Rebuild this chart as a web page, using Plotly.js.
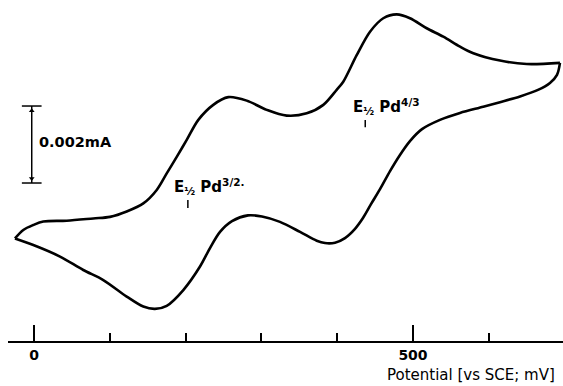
<!DOCTYPE html>
<html>
<head>
<meta charset="utf-8">
<script src="https://cdn.plot.ly/plotly-3.0.1.min.js"></script>
<style>html,body{margin:0;padding:0;background:#fff;}#chart{width:563px;height:386px;}</style>
</head>
<body>
<div id="chart"></div>
<script>
// Potential (mV vs SCE) and current (µA), forward (upper) sweep
const forwardPotential = [-25.1,-14.1,-0.9,12.3,43.1,78.2,100.3,122.3,144.2,161.9,175.1,188.3,201.5,216.8,236.5,256.3,280.6,307.0,333.4,359.8,381.7,399.3,408.0,425.7,443.3,460.8,478.5,496.0,518.1,540.0,562.0,579.6,614.8,650.0,693.9];
const forwardCurrent   = [0.30,0.52,0.65,0.74,0.76,0.82,0.86,1.00,1.21,1.56,1.99,2.42,2.86,3.38,3.77,3.97,3.88,3.64,3.49,3.55,3.77,4.16,4.37,5.06,5.67,6.02,6.12,6.02,5.76,5.54,5.28,5.11,4.92,4.83,4.86];
// reverse (lower) sweep
const reversePotential = [693.9,690.0,680.7,664.9,641.2,614.8,592.7,562.0,535.6,511.9,496.0,482.8,469.7,456.5,444.6,434.0,423.5,410.3,397.1,383.9,373.0,351.0,324.5,300.8,282.3,261.2,245.4,232.2,219.0,197.0,175.1,159.6,144.2,122.3,91.4,65.0,34.3,-0.9,-25.1];
const reverseCurrent   = [4.86,4.55,4.34,4.16,3.99,3.84,3.72,3.56,3.38,3.14,2.83,2.47,2.05,1.58,1.19,0.83,0.55,0.31,0.19,0.18,0.24,0.47,0.73,0.87,0.90,0.75,0.47,0.05,-0.43,-1.04,-1.45,-1.53,-1.47,-1.21,-0.78,-0.52,-0.17,0.13,0.30];
const majorTicks = [0, 500];
const tickLabels = ["0", "500"];
const scaleBarCurrent = 2;           // 0.002 mA = 2 µA
const scaleBarLabel = "0.002mA";
const halfWavePotentials = [203, 437];
const halfWaveLabels = ["E<sub>½</sub> Pd<sup>3/2.</sup>", "E<sub>½</sub> Pd<sup>4/3</sup>"];
const xTitle = "Potential [vs SCE; mV]";

const FONT = "DejaVu Sans, Arial, sans-serif";

// scale bar placement (layout, not data)
const sbX = -3, sbTop = 3.74, sbCap = 13;
const sbBot = sbTop - scaleBarCurrent;

const curveLine = {color: '#000', width: 2.6, shape: 'spline', smoothing: 0.9};
const traces = [
  {x: forwardPotential, y: forwardCurrent, mode: 'lines', line: curveLine, hoverinfo: 'skip', cliponaxis: false},
  {x: reversePotential, y: reverseCurrent, mode: 'lines', line: curveLine, hoverinfo: 'skip', cliponaxis: false},
  {x: [sbX, sbX], y: [sbTop, sbBot], mode: 'lines', line: {color: '#000', width: 1.5}, hoverinfo: 'skip'},
  {x: [sbX - sbCap, sbX + sbCap], y: [sbTop, sbTop], mode: 'lines', line: {color: '#000', width: 1.5}, hoverinfo: 'skip'},
  {x: [sbX - sbCap, sbX + sbCap], y: [sbBot, sbBot], mode: 'lines', line: {color: '#000', width: 1.5}, hoverinfo: 'skip'},
  {x: [sbX, sbX], y: [sbTop - 0.12, sbBot + 0.12], mode: 'markers', marker: {symbol: ['triangle-up', 'triangle-down'], size: 5, color: '#000'}, hoverinfo: 'skip'}
];

const shapes = halfWavePotentials.map((p, i) => ({
  type: 'line', xref: 'x', yref: 'y', x0: p, x1: p,
  y0: [1.30, 3.38][i], y1: [1.09, 3.19][i], line: {color: '#000', width: 1.5}
}));

const annotations = [
  {xref: 'x', yref: 'y', x: 4, y: 2.81, text: scaleBarLabel, showarrow: false, xanchor: 'left', yanchor: 'middle', font: {family: FONT, size: 14.5, weight: 'bold', color: '#000'}},
  {xref: 'x', yref: 'y', x: 182, y: 1.64, text: halfWaveLabels[0], showarrow: false, xanchor: 'left', yanchor: 'middle', font: {family: FONT, size: 15, weight: 'bold', color: '#000'}},
  {xref: 'x', yref: 'y', x: 418, y: 3.74, text: halfWaveLabels[1], showarrow: false, xanchor: 'left', yanchor: 'middle', font: {family: FONT, size: 15, weight: 'bold', color: '#000'}},
  {xref: 'paper', yref: 'paper', x: 0.989, y: -0.1, text: xTitle, showarrow: false, xanchor: 'right', yanchor: 'middle', font: {family: FONT, size: 15, color: '#000'}}
];

const layout = {
  width: 563, height: 386,
  margin: {l: 8, r: 0, t: 0, b: 45},
  paper_bgcolor: '#fff', plot_bgcolor: '#fff',
  showlegend: false,
  xaxis: {
    range: [-34.3, 697.9], showgrid: false, zeroline: false,
    showline: true, linecolor: '#000', linewidth: 2,
    ticks: 'inside', ticklen: 16, tickwidth: 2, tickcolor: '#000',
    tickvals: majorTicks, ticktext: tickLabels,
    tickfont: {family: FONT, size: 14, weight: 'bold', color: '#000'},
    minor: {dtick: 100, tick0: 0, ticks: 'inside', ticklen: 8, tickwidth: 2, tickcolor: '#000'}
  },
  yaxis: {range: [-2.364, 6.494], visible: false, showgrid: false, zeroline: false},
  shapes: shapes,
  annotations: annotations
};

Plotly.newPlot('chart', traces, layout, {staticPlot: true, displayModeBar: false});
</script>
</body>
</html>
